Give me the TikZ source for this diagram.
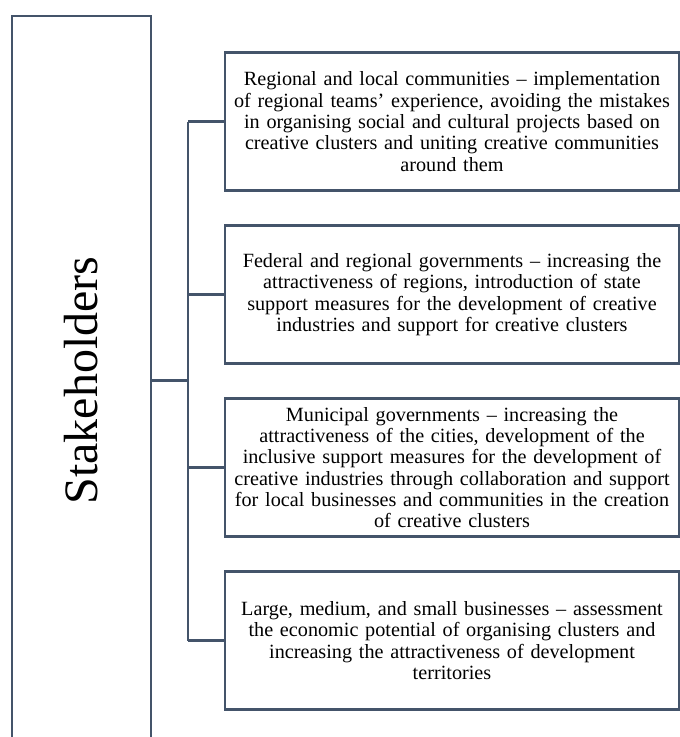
\documentclass[tikz,border=0pt]{standalone}
\usepackage{fontspec}
\setmainfont{Liberation Serif}
\usepackage{tikz}
\usetikzlibrary{positioning}
\usepackage{xcolor}
\definecolor{slate}{HTML}{44546A}

\begin{document}
\begin{tikzpicture}[node distance=173pt,line width=2.2pt,draw=slate,
      main node/.style={rectangle,draw=slate,outer sep=0pt,inner sep=2pt,
          font=\fontsize{20.2}{21.3}\selectfont,text width=450pt,align=center,
          minimum height=138pt},
      holder node/.style={rectangle,outer sep=0pt,inner sep=0pt,
          font=\fontsize{48}{52}\selectfont,minimum width=139pt,minimum height=729pt}]

    \useasboundingbox (0,0) rectangle (680pt,-737pt);

    \node[holder node] (stk) at (81.5pt,-380.5pt) {\rotatebox{90}{Stakeholders}};
    \node[main node] (rlc) at (452pt,-121.5pt) {Regional and local communities – implementation\\
        of regional teams’ experience, avoiding the mistakes\\
        in organising social and cultural projects based on\\
        creative clusters and uniting creative communities\\
        around them};
    \node[main node] (frg) [below of=rlc] {Federal and regional governments – increasing the\\
        attractiveness of regions, introduction of state\\
        support measures for the development of creative\\
        industries and support for creative clusters};
    \node[main node] (mng) [below of=frg] {Municipal governments – increasing the\\
        attractiveness of the cities, development of the\\
        inclusive support measures for the development of\\
        creative industries through collaboration and support\\
        for local businesses and communities in the creation\\
        of creative clusters};
    \node[main node] (lmb) [below of=mng] {Large, medium, and small businesses – assessment\\
        the economic potential of organising clusters and\\
        increasing the attractiveness of development\\
        territories};
    \coordinate[right=37pt of stk.east] (hub);

    % box open at the bottom
    \draw[slate] (stk.south west) -- (stk.north west) -- (stk.north east) -- (stk.south east);

    \draw[slate] (stk.east) -- (hub);
    \draw[slate] (hub |- rlc.west) -- (hub |- lmb.west);
    \draw[slate] (hub |- rlc.west) -- (rlc.west);
    \draw[slate] (hub |- frg.west) -- (frg.west);
    \draw[slate] (hub |- mng.west) -- (mng.west);
    \draw[slate] (hub |- lmb.west) -- (lmb.west);

  \end{tikzpicture}
\end{document}
